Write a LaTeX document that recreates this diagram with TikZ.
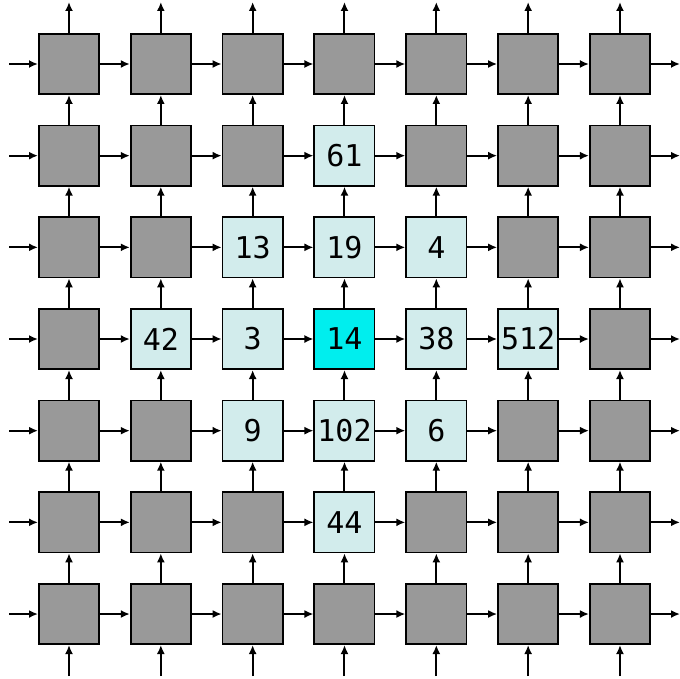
\documentclass[tikz,border=0pt]{standalone}
\usepackage{fontspec}
\newfontfamily\numfont{DejaVu Sans Mono}
\usetikzlibrary{arrows.meta}
\definecolor{cellgray}{RGB}{153,153,153}
\definecolor{celllight}{RGB}{210,236,236}
\definecolor{cellhot}{RGB}{0,238,238}
\begin{document}
\begin{tikzpicture}[x=1pt,y=-1pt,
  cell/.style={draw=black, line width=1.8pt, fill=cellgray, minimum size=60.2pt, inner sep=0pt, font=\numfont\fontsize{30}{30}\selectfont},
  lit/.style={cell, fill=celllight},
  hot/.style={cell, fill=cellhot},
  link/.style={line width=2pt, -{Latex[length=9pt,width=8pt]}}]
\useasboundingbox (0,0) rectangle (680,679);
% cells
\foreach \i in {0,...,6}{
  \foreach \j in {0,...,6}{
    \node[cell] (n-\i-\j) at ({69+91.83*\i},{64+91.67*\j}) {};
  }
}
% highlighted cells
\node[lit] (c-3-1) at (n-3-1) {61};
\node[lit] (c-2-2) at (n-2-2) {13};
\node[lit] (c-3-2) at (n-3-2) {19};
\node[lit] (c-4-2) at (n-4-2) {4};
\node[lit] (c-1-3) at (n-1-3) {42};
\node[lit] (c-2-3) at (n-2-3) {3};
\node[hot] (c-3-3) at (n-3-3) {14};
\node[lit] (c-4-3) at (n-4-3) {38};
\node[lit] (c-5-3) at (n-5-3) {512};
\node[lit] (c-2-4) at (n-2-4) {9};
\node[lit] (c-3-4) at (n-3-4) {102};
\node[lit] (c-4-4) at (n-4-4) {6};
\node[lit] (c-3-5) at (n-3-5) {44};
% free ends
\foreach \k in {0,...,6}{
  \coordinate (L-\k) at (9,{64+91.67*\k});
  \coordinate (R-\k) at (680,{64+91.67*\k});
  \coordinate (B-\k) at ({69+91.83*\k},676);
  \coordinate (T-\k) at ({69+91.83*\k},2);
}
% horizontal links
\foreach \j in {0,...,6}{
  \draw[link] (L-\j) -- (n-0-\j.west);
  \foreach \i [evaluate=\i as \ii using int(\i+1)] in {0,...,5}{
    \draw[link] (n-\i-\j.east) -- (n-\ii-\j.west);
  }
  \draw[link] (n-6-\j.east) -- (R-\j);
}
% vertical links (upward)
\foreach \i in {0,...,6}{
  \draw[link] (B-\i) -- (n-\i-6.south);
  \foreach \j [evaluate=\j as \jj using int(\j+1)] in {0,...,5}{
    \draw[link] (n-\i-\jj.north) -- (n-\i-\j.south);
  }
  \draw[link] (n-\i-0.north) -- (T-\i);
}
\end{tikzpicture}
\end{document}
